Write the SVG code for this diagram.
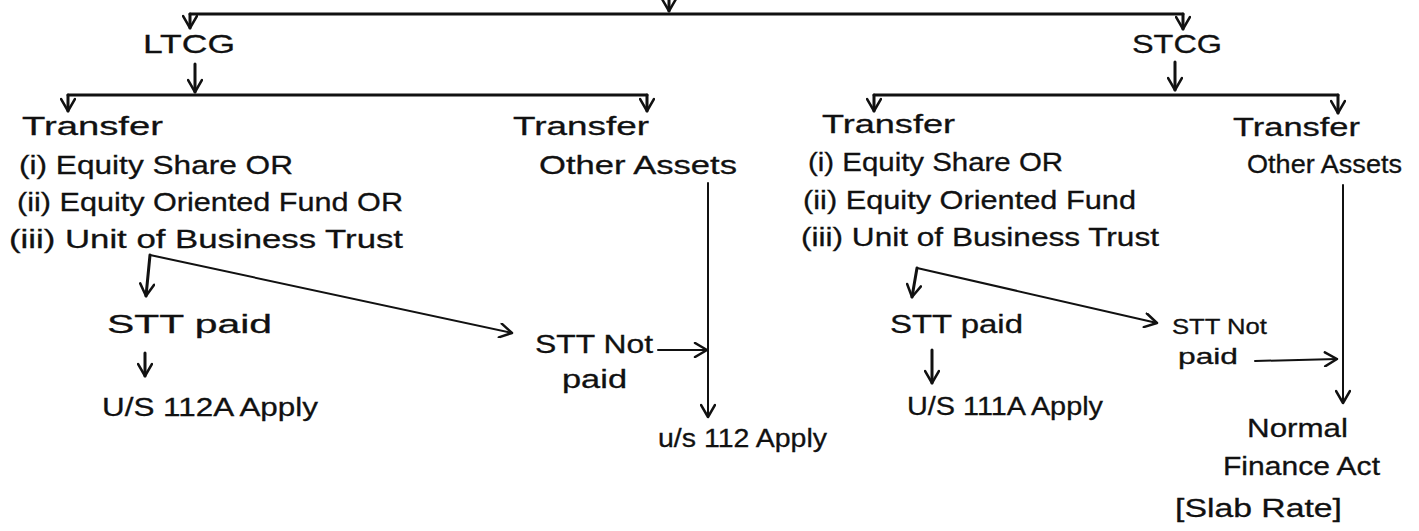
<svg xmlns="http://www.w3.org/2000/svg" width="1419" height="531" viewBox="0 0 1419 531">
<style>
.t{font-family:"Liberation Sans",Arial,sans-serif;font-size:26px;fill:#111;stroke:#111;stroke-width:0.3px;}
.s{font-size:22px;}
.c{fill:none;stroke:#111;stroke-width:3;stroke-linecap:round;stroke-linejoin:round;}
.d{fill:none;stroke:#111;stroke-width:2;stroke-linecap:round;stroke-linejoin:round;}
</style>
<defs>
<marker id="arr" viewBox="0 0 16 16" refX="14" refY="8" markerWidth="16" markerHeight="16" orient="auto" markerUnits="userSpaceOnUse">
<path d="M2,1 L14,8 L2,15" fill="none" stroke="#111" stroke-width="2.5" stroke-linecap="round" stroke-linejoin="round"/>
</marker>
</defs>
<rect width="1419" height="531" fill="#fff"/>
<g id="connectors">
<path class="c" d="M669,0 L669,11" marker-end="url(#arr)"/>
<path class="c" d="M190,14 L1183,14"/>
<path class="c" d="M190,14 L190,28" marker-end="url(#arr)"/>
<path class="c" d="M1183,14 L1183,29" marker-end="url(#arr)"/>
<path class="c" d="M195,64 L195,92" marker-end="url(#arr)"/>
<path class="c" d="M68,95 L647,95"/>
<path class="c" d="M68,95 L68,111" marker-end="url(#arr)"/>
<path class="c" d="M647,95 L647,111" marker-end="url(#arr)"/>
<path class="d" d="M708,183 L708,417" marker-end="url(#arr)"/>
<path class="c" d="M150,255 L146,296" marker-end="url(#arr)"/>
<path class="d" d="M150,255 L512,333" marker-end="url(#arr)"/>
<path class="c" d="M145,353 L145,376" marker-end="url(#arr)"/>
<path class="d" d="M658,350 L707,350" marker-end="url(#arr)"/>
<path class="c" d="M1175,62 L1175,90" marker-end="url(#arr)"/>
<path class="c" d="M874,95 L1338,95"/>
<path class="c" d="M874,95 L874,111" marker-end="url(#arr)"/>
<path class="c" d="M1338,95 L1338,113" marker-end="url(#arr)"/>
<path class="d" d="M1343,185 L1343,403" marker-end="url(#arr)"/>
<path class="c" d="M917,268 L912,297" marker-end="url(#arr)"/>
<path class="d" d="M917,268 L1157,323" marker-end="url(#arr)"/>
<path class="c" d="M932,350 L932,383" marker-end="url(#arr)"/>
<path class="d" d="M1255,361 L1337,359" marker-end="url(#arr)"/>
</g>
<g id="ltcg"><text class="t" x="143" y="53" textLength="92" lengthAdjust="spacingAndGlyphs">LTCG</text></g>
<g id="stcg"><text class="t" x="1132" y="53" textLength="90" lengthAdjust="spacingAndGlyphs">STCG</text></g>
<g id="l-transfer-equity">
<text class="t" x="22" y="135" textLength="141" lengthAdjust="spacingAndGlyphs">Transfer</text>
<text class="t" x="19" y="174" textLength="274" lengthAdjust="spacingAndGlyphs">(i) Equity Share OR</text>
<text class="t" x="17" y="211" textLength="386" lengthAdjust="spacingAndGlyphs">(ii) Equity Oriented Fund OR</text>
<text class="t" x="9" y="248" textLength="394" lengthAdjust="spacingAndGlyphs">(iii) Unit of Business Trust</text>
</g>
<g id="l-transfer-other">
<text class="t" x="513" y="135" textLength="136" lengthAdjust="spacingAndGlyphs">Transfer</text>
<text class="t" x="539" y="174" textLength="198" lengthAdjust="spacingAndGlyphs">Other Assets</text>
</g>
<g id="l-stt-paid"><text class="t" x="107" y="333" textLength="165" lengthAdjust="spacingAndGlyphs">STT paid</text></g>
<g id="l-112a"><text class="t" x="102" y="416" textLength="216" lengthAdjust="spacingAndGlyphs">U/S 112A Apply</text></g>
<g id="l-stt-not">
<text class="t" x="535" y="353" textLength="118" lengthAdjust="spacingAndGlyphs">STT Not</text>
<text class="t" x="562" y="388" textLength="65" lengthAdjust="spacingAndGlyphs">paid</text>
</g>
<g id="l-112"><text class="t" x="658" y="447" textLength="169" lengthAdjust="spacingAndGlyphs">u/s 112 Apply</text></g>
<g id="r-transfer-equity">
<text class="t" x="822" y="133" textLength="133" lengthAdjust="spacingAndGlyphs">Transfer</text>
<text class="t" x="808" y="171" textLength="255" lengthAdjust="spacingAndGlyphs">(i) Equity Share OR</text>
<text class="t" x="803" y="209" textLength="333" lengthAdjust="spacingAndGlyphs">(ii) Equity Oriented Fund</text>
<text class="t" x="801" y="246" textLength="358" lengthAdjust="spacingAndGlyphs">(iii) Unit of Business Trust</text>
</g>
<g id="r-transfer-other">
<text class="t" x="1233" y="136" textLength="127" lengthAdjust="spacingAndGlyphs">Transfer</text>
<text class="t" x="1247" y="173" textLength="155" lengthAdjust="spacingAndGlyphs">Other Assets</text>
</g>
<g id="r-stt-paid"><text class="t" x="890" y="333" textLength="133" lengthAdjust="spacingAndGlyphs">STT paid</text></g>
<g id="r-111a"><text class="t" x="907" y="415" textLength="196" lengthAdjust="spacingAndGlyphs">U/S 111A Apply</text></g>
<g id="r-stt-not">
<text class="t s" x="1172" y="334" textLength="95" lengthAdjust="spacingAndGlyphs">STT Not</text>
<text class="t s" x="1178" y="364" textLength="60" lengthAdjust="spacingAndGlyphs">paid</text>
</g>
<g id="r-normal">
<text class="t" x="1247" y="437" textLength="101" lengthAdjust="spacingAndGlyphs">Normal</text>
<text class="t" x="1223" y="475" textLength="157" lengthAdjust="spacingAndGlyphs">Finance Act</text>
<text class="t" x="1175" y="517" textLength="167" lengthAdjust="spacingAndGlyphs">[Slab Rate]</text>
</g>
</svg>
